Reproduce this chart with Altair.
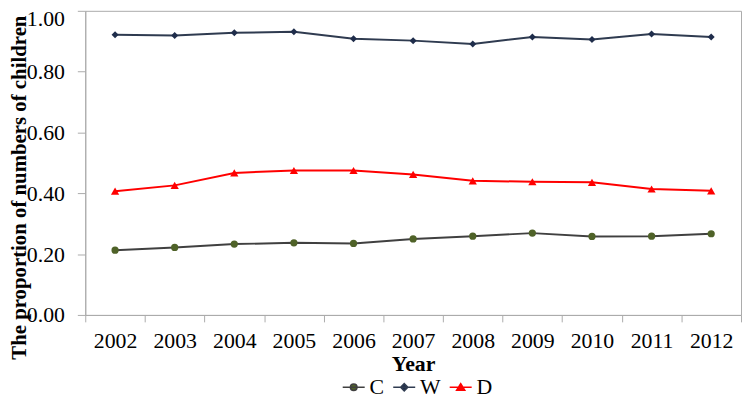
import altair as alt
import pandas as pd

years = ["2002", "2003", "2004", "2005", "2006", "2007", "2008", "2009", "2010", "2011", "2012"]
series_names = ["C", "W", "D"]
c_values = [0.213, 0.222, 0.233, 0.237, 0.235, 0.250, 0.259, 0.269, 0.258, 0.259, 0.267]
w_values = [0.921, 0.919, 0.928, 0.931, 0.908, 0.902, 0.891, 0.914, 0.906, 0.924, 0.914]
d_values = [0.407, 0.426, 0.467, 0.475, 0.475, 0.462, 0.441, 0.438, 0.436, 0.414, 0.408]
y_ticks = [0.0, 0.2, 0.4, 0.6, 0.8, 1.0]

line_colors = ["#404040", "#2F3B50", "#FF0000"]
marker_colors = ["#4F6228", "#1F2D4B", "#FF0000"]
marker_shapes = ["circle", "diamond", "triangle-up"]
marker_sizes = [53, 50, 69]

legend_paths = [
    "M-3.7,0H3.7M-1.1,0A1.1,1.1 0 1,1 1.1,0A1.1,1.1 0 1,1 -1.1,0Z",
    "M-3.7,0H3.7M-1.2,0L0,-1.2L1.2,0L0,1.2Z",
    "M-3.7,0H3.7M0,-1.2L1.35,1.0L-1.35,1.0Z",
]

rows = []
for name, vals in zip(series_names, [c_values, w_values, d_values]):
    for yr, v in zip(years, vals):
        rows.append({"year": yr, "series": name, "value": v})
df = pd.DataFrame(rows)

FONT = "Liberation Serif"
GRAY = "#ABABAB"

x_enc = alt.X(
    "year:O",
    sort=years,
    scale=alt.Scale(type="band", paddingInner=0, paddingOuter=0),
    axis=alt.Axis(
        title="Year",
        labelAngle=0,
        tickBand="extent",
        tickSize=7,
        tickColor=GRAY,
        domainColor=GRAY,
        labelPadding=9,
        labelFont=FONT,
        labelFontSize=22,
        labelColor="black",
        titleFont=FONT,
        titleFontSize=22,
        titleFontWeight="bold",
        titleColor="black",
        titleBaseline="alphabetic",
        titleY=56,
    ),
)
y_enc = alt.Y(
    "value:Q",
    scale=alt.Scale(domain=[0, 1], nice=False),
    axis=alt.Axis(
        title="The proportion of numbers of children",
        values=y_ticks,
        format=".2f",
        grid=False,
        tickSize=8,
        tickColor=GRAY,
        domainColor=GRAY,
        labelPadding=13,
        labelFont=FONT,
        labelFontSize=22,
        labelColor="black",
        labelOffset={"condition": {"test": "datum.value == 1", "value": 8}, "value": 0},
        titleFont=FONT,
        titleFontSize=21,
        titleFontWeight="bold",
        titleColor="black",
        titleAngle=270,
        titleAlign="center",
        titleBaseline="alphabetic",
        titleX=-60,
        titleY=178,
    ),
)

legend_def = alt.Legend(
    title=None,
    orient="none",
    direction="horizontal",
    legendX=260,
    legendY=369,
    padding=0,
    gridAlign="none",
    symbolSize=36,
    symbolStrokeWidth=1.6,
    symbolOpacity=1,
    labelFont=FONT,
    labelFontSize=22,
    labelColor="black",
    labelOffset=5,
    columnPadding=5,
)

base = alt.Chart(df).encode(x=x_enc, y=y_enc)

lines = base.mark_line(strokeWidth=2).encode(
    color=alt.Color(
        "series:N",
        scale=alt.Scale(domain=series_names, range=line_colors),
        legend=legend_def,
    )
)

point_layers = []
for name, shp, sz, col in zip(series_names, marker_shapes, marker_sizes, marker_colors):
    point_layers.append(
        base.transform_filter(alt.datum.series == name).mark_point(
            filled=True, shape=shp, size=sz, color=col, opacity=1
        )
    )

legend_layer = base.mark_point(filled=True, size=36, strokeWidth=1.6, opacity=0).encode(
    shape=alt.Shape("series:N", scale=alt.Scale(domain=series_names, range=legend_paths), legend=legend_def),
    fill=alt.Fill("series:N", scale=alt.Scale(domain=series_names, range=marker_colors), legend=legend_def),
    stroke=alt.Stroke("series:N", scale=alt.Scale(domain=series_names, range=line_colors), legend=legend_def),
)

chart = (
    alt.layer(lines, *point_layers, legend_layer)
    .properties(
        width=662,
        height=307,
        autosize=alt.AutoSizeParams(type="none"),
        padding={"left": 78, "top": 1, "right": 1, "bottom": 81},
    )
    .configure_view(stroke=GRAY, strokeWidth=1)
)

chart.save("out.html", embed_options={"renderer": "svg", "actions": False})
